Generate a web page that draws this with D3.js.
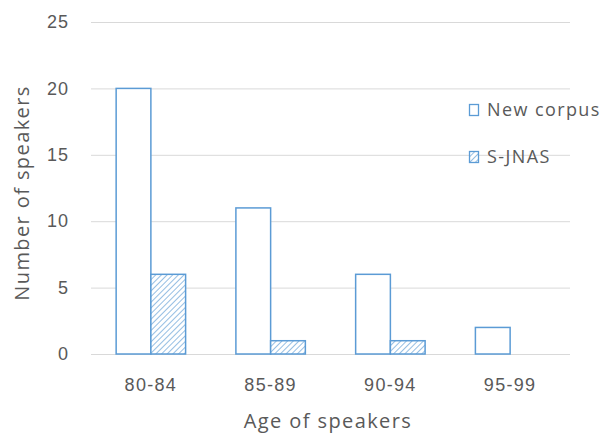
<!DOCTYPE html>
<html>
<head>
<meta charset="utf-8">
<script src="https://cdn.jsdelivr.net/npm/d3@7"></script>
<style>
  html, body { margin: 0; padding: 0; background: #fff; }
  svg { display: block; font-family: "Open Sans", "Noto Sans", sans-serif; }
</style>
</head>
<body>
<svg id="chart" width="606" height="435"></svg>
<script>
// Speakers per age group
const categories = ["80-84", "85-89", "90-94", "95-99"];
const seriesNames = ["New corpus", "S-JNAS"];
const newCorpus = [20, 11, 6, 2];
const sJnas = [6, 1, 1, 0];
const yTicks = [0, 5, 10, 15, 20, 25];

const blue = "#5b9bd5";
const textColor = "#595959";

const svg = d3.select("#chart");
const margin = { left: 91, right: 36, top: 22, bottom: 81 };
const W = 606, H = 435;

const x = d3.scaleBand().domain(categories).range([margin.left, W - margin.right]).paddingInner(0.42).paddingOuter(0.21);
const xs = d3.scaleBand().domain(seriesNames).range([0, x.bandwidth()]);
const y = d3.scaleLinear().domain([0, 25]).range([H - margin.bottom, margin.top]);

// Hatch pattern for the second series
const defs = svg.append("defs");
const pat = defs.append("pattern")
  .attr("id", "hatch").attr("patternUnits", "userSpaceOnUse")
  .attr("width", 4).attr("height", 4)
  .attr("patternTransform", "rotate(45)");
pat.append("rect").attr("width", 4).attr("height", 4).attr("fill", "#fff");
pat.append("line").attr("x1", 0).attr("y1", 0).attr("x2", 0).attr("y2", 4)
  .attr("stroke", blue).attr("stroke-width", 1.3);

// Gridlines and y labels
const yAxis = d3.axisLeft(y).tickValues(yTicks).tickSize(-(W - margin.left - margin.right)).tickPadding(22);
const gy = svg.append("g").attr("transform", `translate(${margin.left},0)`).call(yAxis);
gy.select(".domain").remove();
gy.selectAll(".tick line").attr("stroke", "#d9d9d9").attr("stroke-width", 1);
gy.selectAll(".tick text").attr("fill", textColor).style("font-size", "18px").style("letter-spacing", "1px");

// X labels
const xAxis = d3.axisBottom(x).tickSize(0).tickPadding(24);
const gx = svg.append("g").attr("transform", `translate(0,${y(0)})`).call(xAxis);
gx.select(".domain").remove();
gx.selectAll(".tick text").attr("fill", textColor).style("font-size", "18px").style("letter-spacing", "1.3px");

// Bars
const series = [
  { name: seriesNames[0], values: newCorpus, fill: "#fff" },
  { name: seriesNames[1], values: sJnas, fill: "url(#hatch)" }
];
series.forEach(s => {
  svg.append("g").selectAll("rect")
    .data(categories.map((c, i) => ({ c, v: s.values[i] })).filter(d => d.v > 0))
    .join("rect")
    .attr("x", d => x(d.c) + xs(s.name))
    .attr("y", d => y(d.v))
    .attr("width", xs.bandwidth())
    .attr("height", d => y(0) - y(d.v))
    .attr("fill", s.fill)
    .attr("stroke", blue)
    .attr("stroke-width", 1.5);
});

// Legend
const legend = svg.append("g").attr("transform", "translate(469,104)");
series.forEach((s, i) => {
  const g = legend.append("g").attr("transform", `translate(0,${i * 47})`);
  g.append("rect").attr("x", 0.5).attr("y", 0.5).attr("width", 9).attr("height", 11)
    .attr("fill", s.fill).attr("stroke", blue).attr("stroke-width", 1.3);
  g.append("text").attr("x", 18).attr("y", 6).attr("dy", "0.35em")
    .attr("fill", textColor).style("font-size", "18px").style("letter-spacing", "1.4px").text(s.name);
});

// Axis titles
svg.append("text")
  .attr("x", 328).attr("y", 428)
  .attr("text-anchor", "middle").attr("fill", textColor)
  .style("font-size", "20px").style("letter-spacing", "1.4px")
  .text("Age of speakers");
svg.append("text")
  .attr("transform", `translate(29,${(y(0) + y(25)) / 2 + 5}) rotate(-90)`)
  .attr("text-anchor", "middle").attr("fill", textColor)
  .style("font-size", "20px").style("letter-spacing", "1.4px")
  .text("Number of speakers");
</script>
</body>
</html>
